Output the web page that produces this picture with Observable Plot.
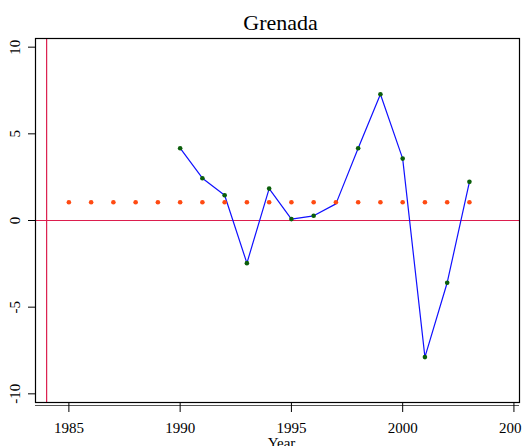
<!DOCTYPE html>
<html><head><meta charset="utf-8">
<script src="https://cdn.jsdelivr.net/npm/d3@7"></script>
<script src="https://cdn.jsdelivr.net/npm/@observablehq/plot@0.6"></script>
<style>body{margin:0;background:#fff} svg{display:block}</style>
</head><body><div id="chart"></div>
<script>
const title = "Grenada";
const xLabel = "Year";
const years = [1990, 1991, 1992, 1993, 1994, 1995, 1996, 1997, 1998, 1999, 2000, 2001, 2002, 2003];
const values = [4.17, 2.44, 1.46, -2.46, 1.84, 0.08, 0.27, 0.96, 4.17, 7.28, 3.57, -7.88, -3.59, 2.23];
const markedYears = [1990, 1991, 1992, 1993, 1994, 1995, 1996, 1998, 1999, 2000, 2001, 2002, 2003];
const refYears = [1985, 1986, 1987, 1988, 1989, 1990, 1991, 1992, 1993, 1994, 1995, 1996, 1997, 1998, 1999, 2000, 2001, 2002, 2003];
const refValues = [1.05, 1.05, 1.05, 1.05, 1.05, 1.05, 1.05, 1.05, 1.05, 1.05, 1.05, 1.05, 1.05, 1.05, 1.05, 1.05, 1.05, 1.05, 1.05];
const xTicks = [1985, 1990, 1995, 2000, 2005];
const yTicks = [-10, -5, 0, 5, 10];
const vLine = [1984];
const hLine = [0];

const series = years.map((y, i) => ({year: y, value: values[i]}));
const marked = series.filter(d => markedYears.includes(d.year));
const refs = refYears.map((y, i) => ({year: y, value: refValues[i]}));
const red = "#DC1E4E";

const chart = Plot.plot({
  width: 522,
  height: 446,
  marginLeft: 35,
  marginRight: 3,
  marginTop: 38,
  marginBottom: 44,
  style: {fontFamily: "Liberation Serif", background: "white", color: "black"},
  x: {domain: [1983.5, 2005.25]},
  y: {domain: [-10.5, 10.5]},
  marks: [
    Plot.ruleX(vLine, {x: d => d, stroke: red, strokeWidth: 1.2}),
    Plot.ruleY(hLine, {y: d => d, stroke: red, strokeWidth: 1.2}),
    Plot.line(series, {x: "year", y: "value", stroke: "#1010FF", strokeWidth: 1.2}),
    Plot.dot(marked, {x: "year", y: "value", r: 2.3, fill: "#0B5E0B", stroke: "none"}),
    Plot.dot(refs, {x: "year", y: "value", r: 2.3, fill: "#FF4A12", stroke: "none"}),
    Plot.frame({stroke: "black", strokeWidth: 1.2}),
    Plot.ruleY([-10.5], {dy: 3, stroke: "#555", strokeWidth: 1.2}),
    Plot.axisX({ticks: xTicks, tickSize: 10, tickPadding: 10, tickFormat: d => String(d), fontSize: 15, label: null, stroke: "black"}),
    Plot.axisY({ticks: yTicks, tickSize: 7, tickFormat: () => "", label: null}),
    Plot.text(yTicks, {y: d => d, frameAnchor: "left", dx: -20, rotate: -90, text: d => String(d), fontSize: 15, textAnchor: "middle", lineAnchor: "middle", fill: "black"}),
    Plot.text([title], {frameAnchor: "top", dx: 3, dy: -9, lineAnchor: "bottom", fontSize: 22, fill: "black"}),
    Plot.text([xLabel], {frameAnchor: "bottom", dx: 4, dy: 45, lineAnchor: "bottom", fontSize: 15, fill: "black"})
  ]
});
document.getElementById("chart").append(chart);
</script>
</body></html>
